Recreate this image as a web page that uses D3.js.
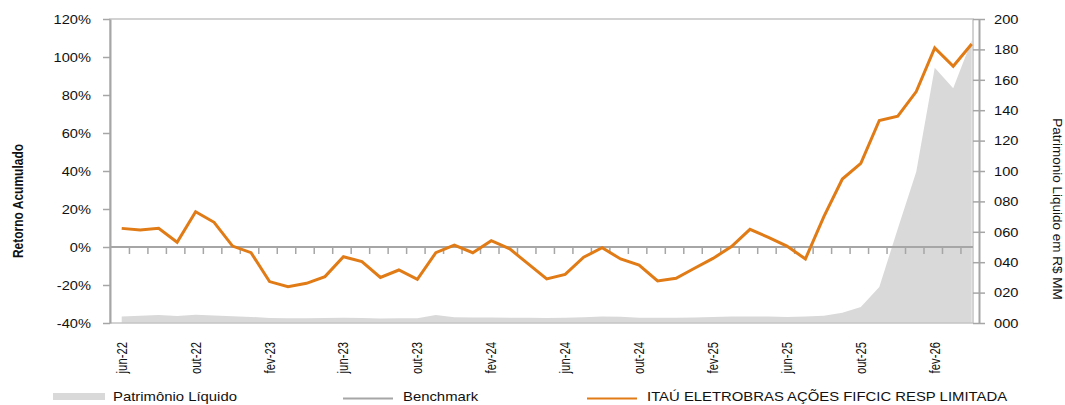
<!DOCTYPE html>
<html><head><meta charset="utf-8">
<script src="https://cdn.jsdelivr.net/npm/d3@7"></script>
<style>
body{margin:0;background:#fff;}
svg{display:block;font-family:"Liberation Sans",Arial,sans-serif;}
</style>
</head><body>
<svg id="c" width="1065" height="405"></svg>
<script>
// ---------- data ----------
const months = [
  "jun-22","jul-22","ago-22","set-22","out-22","nov-22","dez-22",
  "jan-23","fev-23","mar-23","abr-23","mai-23","jun-23","jul-23","ago-23","set-23","out-23","nov-23","dez-23",
  "jan-24","fev-24","mar-24","abr-24","mai-24","jun-24","jul-24","ago-24","set-24","out-24","nov-24","dez-24",
  "jan-25","fev-25","mar-25","abr-25","mai-25","jun-25","jul-25","ago-25","set-25","out-25","nov-25","dez-25",
  "jan-26","fev-26","mar-26","abr-26"
];
// Retorno acumulado do fundo (%)
const fundReturn = [
  9.8, 8.9, 9.8, 2.5, 18.6, 13.0, 0.5,
  -3.0, -18.2, -20.9, -19.1, -15.6, -5.1, -7.7, -16.0, -12.1, -17.0, -3.0, 1.0,
  -3.0, 3.3, -1.0, -8.9, -16.8, -14.4, -5.4, -0.4, -6.3, -9.5, -17.9, -16.5,
  -11.2, -6.0, 0.2, 9.3, 5.1, 0.5, -6.3, 16.0, 35.8, 44.0, 66.6, 68.9,
  81.8, 104.8, 95.1, 106.8
];
// Benchmark (%)
const benchmark = [
  0,0,0,0,0,0,0, 0,0,0,0,0,0,0,0,0,0,0,0, 0,0,0,0,0,0,0,0,0,0,0,0,
  0,0,0,0,0,0,0,0,0,0,0,0, 0,0,0,0
];
// Patrimônio Líquido (R$ MM)
const patrimonio = [
  4.2, 4.8, 5.3, 4.6, 5.5, 5.0, 4.5,
  4.0, 3.3, 3.2, 3.2, 3.3, 3.4, 3.3, 3.0, 3.1, 3.1, 5.3, 3.8,
  3.6, 3.6, 3.5, 3.5, 3.3, 3.4, 3.8, 4.2, 4.1, 3.5, 3.4, 3.5,
  3.7, 3.9, 4.2, 4.3, 4.2, 4.0, 4.2, 4.8, 6.8, 10.5, 23.7, 62.0,
  99.5, 168.0, 154.5, 186.0
];
const labelMonths = ["jun-22","out-22","fev-23","jun-23","out-23","fev-24","jun-24","out-24","fev-25","jun-25","out-25","fev-26"];
const leftTicks = [-40,-20,0,20,40,60,80,100,120];
const rightTicks = [0,20,40,60,80,100,120,140,160,180,200];
const seriesNames = ["Patrimônio Líquido","Benchmark","ITAÚ ELETROBRAS AÇÕES FIFCIC RESP LIMITADA"];

// ---------- layout ----------
const P = {left:110, right:973, top:19, bottom:323};
const SX = 1.22;            // horizontal text stretch of the original
const AX = "#a6a6a6";
const ORANGE = "#e07b16";
const svg = d3.select("#c");

const x = d3.scalePoint().domain(months).range([121.7, 971.7]);
const yL = d3.scaleLinear().domain([-40,120]).range([P.bottom, P.top]);
const yR = d3.scaleLinear().domain([0,200]).range([P.bottom, P.top]);

// area (Patrimônio Líquido)
svg.append("path").datum(patrimonio)
  .attr("fill","#d9d9d9")
  .attr("d", d3.area().x((d,i)=>x(months[i])).y0(yR(0)).y1(d=>yR(d)));

// plot border
svg.append("rect").attr("x",P.left).attr("y",P.top)
  .attr("width",P.right-P.left).attr("height",P.bottom-P.top)
  .attr("fill","none").attr("stroke","#c4c4c4").attr("stroke-width",1.5);

// left axis
const gL = svg.append("g").attr("transform",`translate(${P.left},0)`)
  .call(d3.axisLeft(yL).tickValues(leftTicks).tickSize(7).tickSizeOuter(0).tickFormat(d=>d+"%"));
gL.select(".domain").attr("stroke",AX).attr("stroke-width",2);
gL.selectAll(".tick line").attr("stroke",AX).attr("stroke-width",1.5);
gL.selectAll(".tick text").attr("x",null).attr("dy","0.36em")
  .attr("transform",`translate(-19,0) scale(${SX},1)`)
  .attr("font-size",12).attr("fill","#111")
  .attr("font-family","Liberation Sans, Arial, sans-serif");

// right axis
const RAX = 979;
const gR = svg.append("g").attr("transform",`translate(${RAX},0)`)
  .call(d3.axisRight(yR).tickValues(rightTicks).tickSize(6).tickSizeOuter(0).tickFormat(d3.format("03d")));
gR.select(".domain").attr("stroke",AX).attr("stroke-width",2);
gR.selectAll(".tick line").attr("x1",-6).attr("stroke",AX).attr("stroke-width",1.5);
gR.selectAll(".tick text").attr("x",null).attr("dy","0.36em")
  .attr("transform",`translate(15,0) scale(${SX},1)`)
  .attr("font-size",12).attr("fill","#111")
  .attr("font-family","Liberation Sans, Arial, sans-serif");

// category axis at 0%
const y0 = yL(0);
svg.append("line").attr("x1",P.left).attr("x2",P.right).attr("y1",y0).attr("y2",y0)
  .attr("stroke",AX).attr("stroke-width",2);
svg.append("g").selectAll("line").data(months.slice(0,-1)).join("line")
  .attr("x1",(d,i)=>(x(d)+x(months[i+1]))/2 - 1.5)
  .attr("x2",(d,i)=>(x(d)+x(months[i+1]))/2 - 1.5)
  .attr("y1",y0).attr("y2",y0+7)
  .attr("stroke",AX).attr("stroke-width",1.5);

// benchmark line
svg.append("path").datum(benchmark)
  .attr("fill","none").attr("stroke",AX).attr("stroke-width",2)
  .attr("d", d3.line().x((d,i)=>x(months[i])).y(d=>yL(d)));

// fund line
svg.append("path").datum(fundReturn)
  .attr("fill","none").attr("stroke",ORANGE).attr("stroke-width",3)
  .attr("stroke-linejoin","miter")
  .attr("d", d3.line().x((d,i)=>x(months[i])).y(d=>yL(d)));

// x labels
svg.append("g").selectAll("text").data(labelMonths).join("text")
  .attr("transform",d=>`translate(${x(d)+5},342) scale(1.24,1) rotate(-90)`)
  .attr("text-anchor","end").attr("font-size",11.3).attr("fill","#111")
  .text(d=>d);

// axis titles
svg.append("text").attr("transform",`translate(23,201) scale(${SX},1) rotate(-90)`)
  .attr("text-anchor","middle").attr("font-size",12).attr("font-weight","bold").attr("fill","#111")
  .text("Retorno Acumulado");
svg.append("text").attr("transform",`translate(1053,209) rotate(90)`)
  .attr("text-anchor","middle").attr("font-size",13.5).attr("fill","#111")
  .text("Patrimonio Liquido em R$ MM");

// legend
const LY = 401;
svg.append("rect").attr("x",53).attr("y",393).attr("width",52).attr("height",7).attr("fill","#d9d9d9");
svg.append("text").attr("transform",`translate(113,${LY}) scale(1.24,1)`).attr("font-size",12).attr("fill","#111").text(seriesNames[0]);
svg.append("line").attr("x1",343).attr("x2",393).attr("y1",398.5).attr("y2",398.5).attr("stroke",AX).attr("stroke-width",2);
svg.append("text").attr("transform",`translate(403,${LY}) scale(1.24,1)`).attr("font-size",12).attr("fill","#111").text(seriesNames[1]);
svg.append("line").attr("x1",587).attr("x2",637).attr("y1",398.5).attr("y2",398.5).attr("stroke",ORANGE).attr("stroke-width",2);
svg.append("text").attr("transform",`translate(647,${LY}) scale(1.24,1)`).attr("font-size",12).attr("fill","#111").text(seriesNames[2]);
</script>
</body></html>
